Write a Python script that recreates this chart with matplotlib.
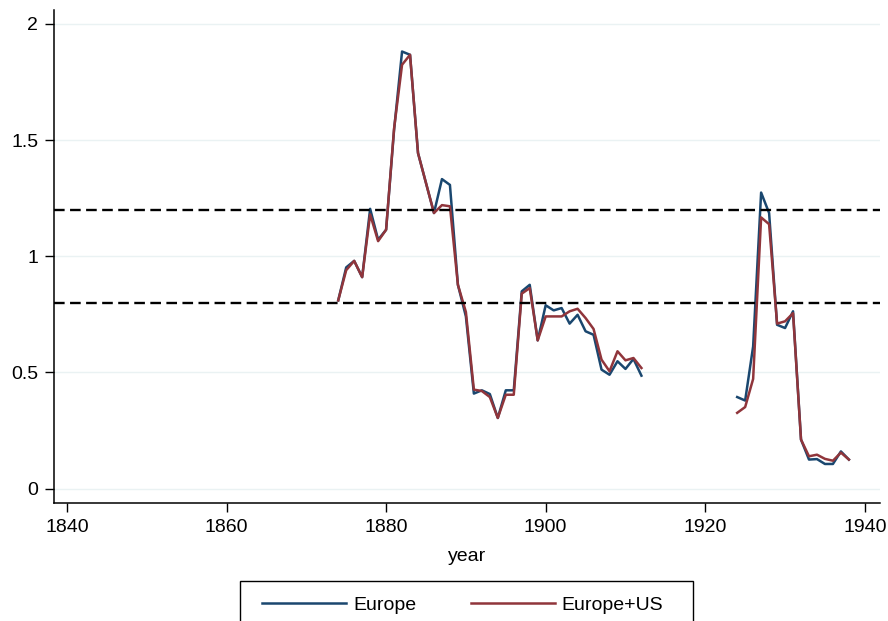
import numpy as np
from matplotlib import pyplot as plt

years_a = list(range(1874, 1913))
years_b = list(range(1924, 1939))

europe_a = [0.81, 0.952, 0.98, 0.91, 1.204, 1.071, 1.114, 1.544, 1.881, 1.867,
            1.444, 1.315, 1.186, 1.332, 1.307, 0.877, 0.741, 0.409, 0.423, 0.407,
            0.304, 0.423, 0.423, 0.849, 0.877, 0.638, 0.789, 0.767, 0.777, 0.710,
            0.748, 0.677, 0.662, 0.512, 0.490, 0.548, 0.515, 0.558, 0.486]
eurous_a = [0.81, 0.94, 0.98, 0.91, 1.18, 1.065, 1.114, 1.55, 1.824, 1.867,
            1.444, 1.315, 1.186, 1.22, 1.215, 0.877, 0.76, 0.426, 0.42, 0.394,
            0.304, 0.404, 0.404, 0.839, 0.863, 0.638, 0.741, 0.741, 0.741, 0.763,
            0.774, 0.734, 0.687, 0.555, 0.505, 0.591, 0.552, 0.562, 0.519]

europe_b = [0.394, 0.379, 0.612, 1.274, 1.186, 0.705, 0.691, 0.763, 0.211, 0.125,
            0.127, 0.106, 0.106, 0.16, 0.125]
eurous_b = [0.326, 0.351, 0.472, 1.167, 1.138, 0.710, 0.72, 0.755, 0.211, 0.139,
            0.146, 0.128, 0.12, 0.155, 0.125]

yticks = [0, 0.5, 1, 1.5, 2]
ytick_labels = ['0', '0.5', '1', '1.5', '2']
xticks = [1840, 1860, 1880, 1900, 1920, 1940]
bands = [0.8, 1.2]

navy = '#1a476f'
maroon = '#90353b'

plt.rcParams['font.family'] = ['Liberation Sans', 'DejaVu Sans']

fig = plt.figure(figsize=(8.88, 6.21), dpi=100)
ax = fig.add_axes([0.061, 0.190, 0.930, 0.794])

for y in yticks:
    ax.axhline(y, color='#eaf2f3', lw=1.0, zorder=0)

ax.plot(years_a, europe_a, color=navy, lw=1.8, label='Europe', zorder=3)
ax.plot(years_b, europe_b, color=navy, lw=1.8, zorder=3)
ax.plot(years_a, eurous_a, color=maroon, lw=1.8, label='Europe+US', zorder=4)
ax.plot(years_b, eurous_b, color=maroon, lw=1.8, zorder=4)

for b in bands:
    ax.axhline(b, color='black', lw=1.7, dashes=(4.5, 2.3), zorder=5)

ax.set_xlim(1838.4, 1941.9)
ax.set_ylim(-0.062, 2.06)
ax.set_xticks(xticks)
ax.set_yticks(yticks)
ax.set_yticklabels(ytick_labels)
ax.tick_params(axis='both', labelsize=14, length=6.5, width=1, direction='out', pad=5)
ax.spines['left'].set_linewidth(1.1)
ax.spines['bottom'].set_linewidth(1.1)
ax.spines['top'].set_visible(False)
ax.spines['right'].set_visible(False)
ax.set_xlabel('year', fontsize=14, labelpad=9)

# legend box drawn by hand so that it can be wider than its content
fig.patches.append(plt.Rectangle((0.2703, -0.05), 0.5101, 0.1144, fill=False,
                                 edgecolor='black', lw=1.0,
                                 transform=fig.transFigure, figure=fig))
fig.legend(loc='upper left', bbox_to_anchor=(0.2818, 0.058), ncol=2,
           fontsize=14, frameon=False, borderaxespad=0,
           handlelength=4.33, columnspacing=2.8, borderpad=0.6,
           handletextpad=0.36)

fig.savefig('out.png', dpi=100)
